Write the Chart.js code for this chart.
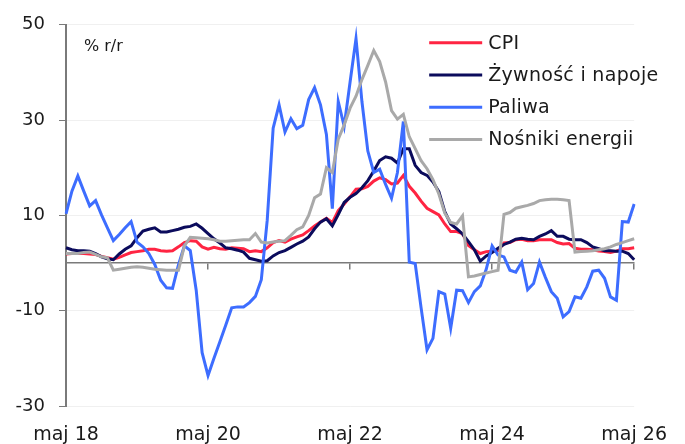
<!DOCTYPE html>
<html>
<head>
<meta charset="utf-8">
<script src="https://cdn.jsdelivr.net/npm/chart.js@4"></script>
<style>
  html, body { margin: 0; padding: 0; background: #fff; }
  #wrap { width: 685px; height: 444px; position: relative; }
</style>
</head>
<body>
<div id="wrap"><canvas id="c" width="685" height="444"></canvas></div>
<script>
// Monthly data, May 2018 ... May 2026 (97 months)
const monthNames = ['sty','lut','mar','kwi','maj','cze','lip','sie','wrz','paź','lis','gru'];
const startYear = 2018, startMonth = 4, nMonths = 97;
const categories = [];
for (let i = 0; i < nMonths; i++) {
  const m = (startMonth + i) % 12;
  const y = startYear + Math.floor((startMonth + i) / 12);
  categories.push(monthNames[m] + ' ' + String(y).slice(2));
}

const seriesNames = ['CPI', 'Żywność i napoje', 'Paliwa', 'Nośniki energii'];

const cpi = [
  1.9, 2.0, 2.0, 2.0, 1.9, 1.8, 1.4, 1.1, 0.8, 1.2,
  1.7, 2.2, 2.4, 2.6, 2.9, 2.9, 2.6, 2.5, 2.6, 3.4,
  4.3, 4.7, 4.6, 3.4, 2.9, 3.3, 3.0, 2.9, 3.2, 3.1,
  3.0, 2.4, 2.6, 2.4, 3.2, 4.3, 4.7, 4.4, 5.0, 5.5,
  5.9, 6.8, 7.8, 8.6, 9.4, 8.5, 11.0, 12.4, 13.9, 15.5,
  15.6, 16.1, 17.2, 17.9, 17.5, 16.6, 16.8, 18.4, 16.1, 14.7,
  13.0, 11.5, 10.8, 10.1, 8.2, 6.6, 6.6, 6.2, 3.7, 2.8,
  2.0, 2.4, 2.5, 2.6, 4.2, 4.3, 4.9, 5.0, 4.7, 4.7,
  4.9, 4.9, 4.9, 4.3, 4.0, 4.1, 3.1, 2.9, 2.9, 2.8,
  2.5, 2.4, 2.2, 2.5, 3.0, 3.0, 3.2
];

const food = [
  3.2, 2.8, 2.6, 2.6, 2.5, 2.0, 1.3, 0.9, 0.7, 1.9,
  2.9, 3.6, 5.3, 6.7, 7.1, 7.4, 6.5, 6.5, 6.8, 7.1,
  7.5, 7.7, 8.2, 7.3, 6.2, 5.1, 4.2, 3.2, 3.0, 2.7,
  2.3, 1.0, 0.7, 0.4, 0.5, 1.5, 2.2, 2.6, 3.3, 4.0,
  4.6, 5.5, 7.2, 8.6, 9.3, 7.8, 10.2, 12.7, 13.8, 14.6,
  15.8, 17.3, 19.3, 21.5, 22.3, 22.0, 21.0, 24.0, 24.0, 20.5,
  19.0, 18.4, 17.0, 15.0, 10.8, 8.2, 7.2, 6.1, 4.5, 2.8,
  0.4, 1.5, 2.2, 3.1, 3.9, 4.4, 5.0, 5.2, 5.0, 4.9,
  5.6, 6.1, 6.8, 5.6, 5.6, 5.0, 4.9, 4.9, 4.3, 3.4,
  3.0, 2.6, 2.6, 2.5, 2.5, 2.0, 0.7
];

const fuel = [
  10.3, 15.1, 18.3, 15.1, 12.0, 13.1, 10.1, 7.4, 4.7, 6.0,
  7.4, 8.7, 4.4, 3.4, 2.0, -0.3, -3.6, -5.2, -5.3, -0.4,
  3.6, 2.6, -5.7, -18.8, -23.6, -20.0, -16.5, -13.0, -9.4, -9.2,
  -9.2, -8.3, -7.0, -3.5, 9.0, 28.3, 33.2, 27.5, 30.3, 28.2,
  28.9, 34.3, 36.8, 33.2, 27.0, 11.4, 33.9, 28.7, 38.0, 47.1,
  33.9, 23.5, 19.0, 19.7, 16.5, 13.6, 19.0, 29.7, 0.2, -0.1,
  -9.4, -18.2, -15.8, -6.0, -6.5, -13.7, -5.7, -5.8, -8.3, -6.0,
  -4.8, -1.3, 3.6, 1.7, 1.3, -1.5, -1.9, 0.2, -5.6, -4.3,
  0.2, -3.0, -6.0, -7.4, -11.3, -10.2, -7.1, -7.4, -5.0, -1.7,
  -1.5, -3.2, -7.1, -7.8, 8.7, 8.6, 12.4
];

const energy = [
  2.0, 2.0, 2.0, 2.2, 2.3, 1.8, 1.3, 1.1, -1.5, -1.3,
  -1.1, -0.9, -0.8, -0.9, -1.1, -1.3, -1.4, -1.5, -1.5, -1.5,
  3.6, 5.4, 5.3, 5.2, 5.1, 4.9, 4.6, 4.6, 4.7, 4.8,
  4.9, 4.9, 6.2, 4.4, 4.2, 4.4, 4.6, 4.7, 5.8, 7.0,
  7.6, 10.0, 13.7, 14.5, 20.0, 19.0, 26.0, 29.0, 32.5, 35.0,
  38.5, 41.5, 44.6, 42.3, 38.0, 32.0, 30.2, 31.2, 26.5, 24.0,
  21.5, 19.8, 17.5, 14.5, 10.5, 8.5, 8.2, 9.9, -2.9, -2.7,
  -2.4, -2.1, -1.8, -1.5, 10.2, 10.6, 11.5, 11.8, 12.1, 12.5,
  13.1, 13.3, 13.4, 13.4, 13.3, 13.1, 2.3, 2.4, 2.5, 2.6,
  2.8, 3.0, 3.4, 3.9, 4.3, 4.7, 5.1
];

const yTicks = { min: -30, max: 50, step: 20 };
const unitLabel = '% r/r';
const colors = ['#ff2442', '#0b0b5c', '#3d6dff', '#a9a9a9'];

const FONT = '"DejaVu Sans", sans-serif';
const AXIS_COLOR = '#7a7a7a';

const overlayPlugin = {
  id: 'overlay',
  afterDraw(chart) {
    const ctx = chart.ctx;
    const area = chart.chartArea;
    ctx.save();
    // unit label
    ctx.fillStyle = '#1a1a1a';
    ctx.font = '16px ' + FONT;
    ctx.textAlign = 'left';
    ctx.textBaseline = 'middle';
    ctx.fillText(unitLabel, area.left + 18, area.top + 22);
    // legend
    const lx = area.right - 205;
    if ('letterSpacing' in ctx) ctx.letterSpacing = '0.3px';
    chart.data.datasets.forEach((ds, k) => {
      const y = area.top + 18 + k * 32.2;
      ctx.strokeStyle = ds.borderColor;
      ctx.lineWidth = 3;
      ctx.beginPath();
      ctx.moveTo(lx, y);
      ctx.lineTo(lx + 53, y);
      ctx.stroke();
      ctx.fillStyle = '#1a1a1a';
      ctx.font = '19px ' + FONT;
      ctx.fillText(ds.label, lx + 59, y + 1);
    });
    ctx.restore();
  }
};

const seriesData = [cpi, food, fuel, energy];
const datasets = seriesData.map((d, k) => ({
  label: seriesNames[k],
  data: d,
  borderColor: colors[k],
  backgroundColor: colors[k],
  borderWidth: 3,
  pointRadius: 0,
  tension: 0,
  fill: false,
  order: 4 - k
}));

new Chart(document.getElementById('c'), {
  type: 'line',
  data: { labels: categories, datasets },
  options: {
    responsive: false,
    animation: false,
    devicePixelRatio: 1,
    layout: { padding: { top: 19, right: 48, left: 0, bottom: 0 } },
    plugins: { legend: { display: false }, tooltip: { enabled: false } },
    scales: {
      x: {
        type: 'category',
        offset: false,
        grid: { display: false, drawTicks: false },
        border: { display: false },
        ticks: {
          autoSkip: false, maxRotation: 0, minRotation: 0,
          padding: 18,
          color: '#1a1a1a',
          font: { family: FONT, size: 19 },
          callback: (v, i) => (i % 24 === 0 ? categories[i] : '')
        },
        afterFit: (s) => { s.height = 38; }
      },
      x2: {
        type: 'category',
        offset: false,
        position: { y: 0 },
        grid: {
          drawOnChartArea: false,
          drawTicks: true,
          tickLength: 6,
          lineWidth: 1.5,
          color: (c) => (c.index % 24 === 0 ? AXIS_COLOR : 'rgba(0,0,0,0)'),
          tickColor: (c) => (c.index % 24 === 0 ? AXIS_COLOR : 'rgba(0,0,0,0)')
        },
        border: { display: true, color: AXIS_COLOR, width: 1.5 },
        ticks: { display: false, autoSkip: false, maxRotation: 0 }
      },
      y: {
        type: 'linear',
        min: yTicks.min, max: yTicks.max,
        grid: {
          color: 'rgba(0,0,0,0.06)',
          tickColor: AXIS_COLOR,
          tickLength: 7,
          lineWidth: 1
        },
        border: { display: true, color: AXIS_COLOR, width: 2 },
        ticks: {
          stepSize: yTicks.step,
          padding: 14,
          color: '#1a1a1a',
          font: { family: FONT, size: 18 }
        },
        afterFit: (s) => { s.width = 66; }
      }
    }
  },
  plugins: [overlayPlugin]
});
</script>
</body>
</html>
